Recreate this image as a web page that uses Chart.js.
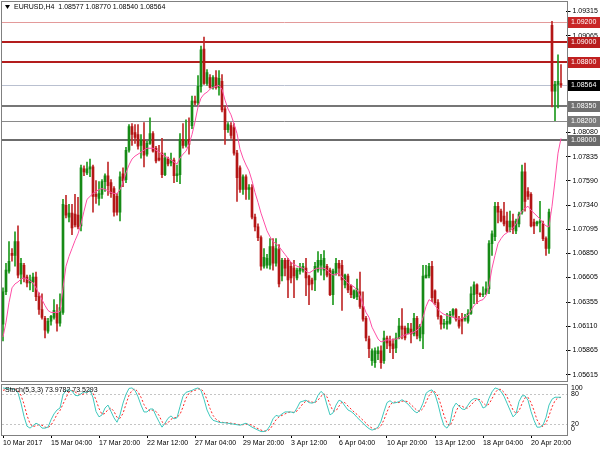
<!DOCTYPE html>
<html>
<head>
<meta charset="utf-8">
<script src="https://cdn.jsdelivr.net/npm/chart.js@4.4.1/dist/chart.umd.min.js"></script>
<style>
  html, body { margin: 0; padding: 0; background: #fff; }
  #wrap { position: relative; width: 600px; height: 450px; overflow: hidden; }
  #priceChart { position: absolute; left: 0; top: 0; }
  #stochChart { position: absolute; left: 0; top: 383px; }
</style>
</head>
<body>
<div id="wrap">
  <canvas id="priceChart" width="600" height="383"></canvas>
  <canvas id="stochChart" width="600" height="67"></canvas>
</div>
<script>
// EURUSD H4 candles
const opens = [
  1.0613,1.0646,1.0667,1.0685,1.0683,1.0697,1.0664,1.0673,1.0661,1.0655,
  1.0656,1.0661,1.0641,1.0628,1.0619,1.0606,1.0616,1.0620,1.0624,1.0614,
  1.0625,1.0734,1.0722,1.0726,1.0725,1.0724,1.0713,1.0771,1.0767,1.0771,
  1.0773,1.0745,1.0741,1.0745,1.0758,1.0764,1.0757,1.0751,1.0743,1.0727,
  1.0766,1.0760,1.0790,1.0814,1.0808,1.0806,1.0795,1.0800,1.0786,1.0797,
  1.0807,1.0792,1.0782,1.0787,1.0765,1.0781,1.0777,1.0780,1.0764,1.0765,
  1.0801,1.0795,1.0801,1.0815,1.0840,1.0838,1.0855,1.0893,1.0858,1.0864,
  1.0854,1.0864,1.0854,1.0860,1.0832,1.0811,1.0815,1.0813,1.0787,1.0772,
  1.0750,1.0763,1.0750,1.0752,1.0722,1.0712,1.0701,1.0672,1.0673,1.0673,
  1.0692,1.0675,1.0689,1.0662,1.0678,1.0678,1.0672,1.0670,1.0660,1.0667,
  1.0668,1.0670,1.0662,1.0658,1.0658,1.0668,1.0673,1.0668,1.0672,1.0668,
  1.0643,1.0665,1.0675,1.0673,1.0653,1.0662,1.0652,1.0640,1.0641,1.0646,
  1.0631,1.0619,1.0598,1.0576,1.0574,1.0583,1.0586,1.0576,1.0599,1.0596,
  1.0593,1.0589,1.0599,1.0611,1.0609,1.0604,1.0608,1.0603,1.0619,1.0599,
  1.0603,1.0660,1.0662,1.0672,1.0647,1.0635,1.0621,1.0613,1.0613,1.0614,
  1.0623,1.0628,1.0618,1.0619,1.0618,1.0616,1.0624,1.0643,1.0653,1.0644,
  1.0643,1.0644,1.0649,1.0695,1.0702,1.0733,1.0728,1.0723,1.0718,1.0712,
  1.0718,1.0708,1.0715,1.0727,1.0768,1.0748,1.0745,1.0717,1.0715,1.0716,
  1.0715,1.0700,1.0690,1.0917,1.0850,1.0857,1.08577
];
const highs = [
  1.0650,1.0675,1.0697,1.0690,1.0707,1.0713,1.0680,1.0675,1.0663,1.0663,
  1.0665,1.0666,1.0645,1.0644,1.0621,1.0619,1.0622,1.0638,1.0633,1.0644,
  1.0740,1.0744,1.0735,1.0735,1.0745,1.0742,1.0775,1.0774,1.0778,1.0781,
  1.0775,1.0759,1.0758,1.0760,1.0766,1.0778,1.0760,1.0753,1.0746,1.0768,
  1.0772,1.0793,1.0816,1.0817,1.0816,1.0816,1.0806,1.0818,1.0799,1.0823,
  1.0809,1.0794,1.0795,1.0802,1.0787,1.0783,1.0787,1.0782,1.0775,1.0807,
  1.0817,1.0821,1.0823,1.0845,1.0845,1.0866,1.0896,1.0905,1.0872,1.0867,
  1.0866,1.0871,1.0871,1.0867,1.0835,1.0818,1.0818,1.0817,1.0790,1.0774,
  1.0765,1.0765,1.0755,1.0755,1.0725,1.0715,1.0703,1.0690,1.0684,1.0700,
  1.0700,1.0700,1.0694,1.0680,1.0680,1.0680,1.0676,1.0678,1.0670,1.0675,
  1.0675,1.0680,1.0663,1.0660,1.0676,1.0687,1.0684,1.0688,1.0674,1.0670,
  1.0669,1.0680,1.0678,1.0678,1.0664,1.0664,1.0653,1.0648,1.0659,1.0666,
  1.0646,1.0621,1.0601,1.0588,1.0589,1.0590,1.0591,1.0606,1.0601,1.0601,
  1.0598,1.0604,1.0619,1.0629,1.0611,1.0614,1.0614,1.0624,1.0621,1.0613,
  1.0673,1.0673,1.0675,1.0677,1.0648,1.0638,1.0622,1.0618,1.0624,1.0626,
  1.0629,1.0629,1.0621,1.0624,1.0623,1.0628,1.0651,1.0656,1.0654,1.0645,
  1.0651,1.0656,1.0698,1.0708,1.0737,1.0737,1.0730,1.0737,1.0727,1.0728,
  1.0725,1.0720,1.0727,1.0775,1.0777,1.0752,1.0747,1.0720,1.0718,1.0738,
  1.0718,1.0702,1.0730,1.0921,1.0860,1.0887,1.08770
];
const lows = [
  1.0596,1.0643,1.0665,1.0677,1.0672,1.0660,1.0654,1.0656,1.0651,1.0648,
  1.0646,1.0637,1.0623,1.0618,1.0599,1.0604,1.0612,1.0618,1.0606,1.0611,
  1.0623,1.0721,1.0717,1.0704,1.0712,1.0710,1.0708,1.0764,1.0765,1.0763,
  1.0727,1.0736,1.0734,1.0741,1.0748,1.0744,1.0742,1.0723,1.0724,1.0718,
  1.0753,1.0757,1.0788,1.0795,1.0797,1.0791,1.0782,1.0773,1.0784,1.0796,
  1.0788,1.0777,1.0779,1.0762,1.0764,1.0774,1.0774,1.0757,1.0758,1.0756,
  1.0792,1.0793,1.0786,1.0812,1.0836,1.0836,1.0849,1.0857,1.0856,1.0853,
  1.0852,1.0852,1.0846,1.0829,1.0796,1.0808,1.0802,1.0785,1.0738,1.0747,
  1.0745,1.0740,1.0740,1.0720,1.0708,1.0698,1.0668,1.0670,1.0670,1.0669,
  1.0668,1.0672,1.0651,1.0657,1.0662,1.0640,1.0655,1.0640,1.0658,1.0664,
  1.0666,1.0642,1.0633,1.0648,1.0647,1.0666,1.0663,1.0658,1.0661,1.0642,
  1.0633,1.0663,1.0662,1.0627,1.0650,1.0645,1.0640,1.0639,1.0638,1.0629,
  1.0616,1.0596,1.0579,1.0571,1.0569,1.0577,1.0568,1.0573,1.0588,1.0584,
  1.0578,1.0584,1.0598,1.0598,1.0597,1.0603,1.0594,1.0601,1.0598,1.0596,
  1.0588,1.0660,1.0660,1.0636,1.0633,1.0618,1.0608,1.0609,1.0608,1.0613,
  1.0621,1.0616,1.0609,1.0603,1.0616,1.0614,1.0623,1.0634,1.0634,1.0641,
  1.0641,1.0643,1.0644,1.0683,1.0698,1.0716,1.0717,1.0713,1.0707,1.0707,
  1.0705,1.0705,1.0712,1.0725,1.0728,1.0740,1.0712,1.0705,1.0713,1.0707,
  1.0698,1.0683,1.0685,1.0834,1.0820,1.0833,1.08540
];
const closes = [
  1.0646,1.0668,1.0677,1.0683,1.0697,1.0663,1.0675,1.0660,1.0655,1.0658,
  1.0661,1.0641,1.0628,1.0620,1.0607,1.0616,1.0621,1.0627,1.0614,1.0630,
  1.0735,1.0724,1.0726,1.0711,1.0714,1.0712,1.0772,1.0768,1.0771,1.0773,
  1.0743,1.0743,1.0746,1.0758,1.0764,1.0754,1.0746,1.0727,1.0727,1.0763,
  1.0759,1.0790,1.0814,1.0806,1.0803,1.0794,1.0800,1.0785,1.0797,1.0807,
  1.0789,1.0779,1.0780,1.0765,1.0782,1.0776,1.0780,1.0764,1.0766,1.0801,
  1.0795,1.0800,1.0796,1.0840,1.0838,1.0855,1.0892,1.0858,1.0869,1.0854,
  1.0864,1.0854,1.0863,1.0831,1.0811,1.0816,1.0805,1.0787,1.0762,1.0750,
  1.0763,1.0750,1.0752,1.0722,1.0712,1.0701,1.0672,1.0681,1.0680,1.0692,
  1.0675,1.0690,1.0654,1.0678,1.0670,1.0658,1.0660,1.0662,1.0668,1.0670,
  1.0672,1.0660,1.0653,1.0654,1.0672,1.0678,1.0678,1.0680,1.0663,1.0643,
  1.0667,1.0675,1.0670,1.0658,1.0663,1.0648,1.0643,1.0647,1.0649,1.0631,
  1.0618,1.0599,1.0588,1.0586,1.0586,1.0586,1.0574,1.0599,1.0594,1.0591,
  1.0588,1.0599,1.0611,1.0608,1.0599,1.0609,1.0603,1.0619,1.0601,1.0611,
  1.0662,1.0663,1.0672,1.0640,1.0635,1.0621,1.0613,1.0614,1.0616,1.0623,
  1.0628,1.0618,1.0611,1.0616,1.0619,1.0624,1.0644,1.0653,1.0644,1.0643,
  1.0644,1.0649,1.0695,1.0705,1.0733,1.0727,1.0718,1.0715,1.0708,1.0718,
  1.0710,1.0718,1.0725,1.0768,1.0738,1.0743,1.0713,1.0713,1.0717,1.0718,
  1.0700,1.0690,1.0727,1.0850,1.0857,1.0860,1.08564
];
// pink moving average
const maValues = [
  1.0600,1.0615,1.0635,1.0650,1.0654,1.0656,1.0659,1.0660,1.0659,1.0657,
  1.0655,1.0650,1.0644,1.0638,1.0632,1.0627,1.0625,1.0625,1.0625,1.0626,
  1.0650,1.0672,1.0682,1.0690,1.0698,1.0705,1.0715,1.0728,1.0740,1.0743,
  1.0746,1.0748,1.0750,1.0751,1.0750,1.0749,1.0747,1.0746,1.0746,1.0750,
  1.0757,1.0767,1.0775,1.0781,1.0784,1.0786,1.0788,1.0790,1.0792,1.0792,
  1.0792,1.0790,1.0788,1.0786,1.0784,1.0782,1.0780,1.0778,1.0776,1.0782,
  1.0786,1.0789,1.0796,1.0806,1.0819,1.0834,1.0843,1.0847,1.0849,1.0852,
  1.0854,1.0855,1.0856,1.0852,1.0841,1.0832,1.0826,1.0817,1.0807,1.0791,
  1.0782,1.0775,1.0769,1.0759,1.0747,1.0737,1.0726,1.0717,1.0708,1.0702,
  1.0697,1.0695,1.0692,1.0688,1.0684,1.0680,1.0676,1.0674,1.0672,1.0671,
  1.0670,1.0667,1.0665,1.0667,1.0669,1.0670,1.0670,1.0670,1.0668,1.0665,
  1.0663,1.0664,1.0665,1.0661,1.0658,1.0655,1.0653,1.0651,1.0648,1.0642,
  1.0633,1.0625,1.0620,1.0610,1.0604,1.0598,1.0595,1.0596,1.0597,1.0597,
  1.0597,1.0598,1.0599,1.0601,1.0602,1.0603,1.0604,1.0605,1.0607,1.0610,
  1.0620,1.0631,1.0638,1.0636,1.0632,1.0628,1.0625,1.0623,1.0622,1.0621,
  1.0620,1.0619,1.0618,1.0619,1.0620,1.0622,1.0627,1.0632,1.0635,1.0637,
  1.0638,1.0642,1.0652,1.0670,1.0683,1.0695,1.0700,1.0704,1.0706,1.0708,
  1.0711,1.0715,1.0723,1.0728,1.0731,1.0733,1.0729,1.0726,1.0723,1.0720,
  1.0716,1.0713,1.0712,1.0733,1.0759,1.0787,1.0802
];
// Stochastic(5,3,3)
const stochMain = [
  93,92,91,91,90,83,62,35,15,11,
  16,21,18,11,11,13,28,40,48,52,
  79,88,89,87,78,77,81,85,83,89,
  73,45,34,38,52,58,45,32,23,38,
  62,80,92,93,88,75,58,44,44,50,
  50,36,24,13,21,31,36,30,32,55,
  76,84,86,88,91,93,88,70,48,35,
  27,25,23,22,22,21,20,19,18,17,
  19,21,17,13,10,7,4,4,7,16,
  30,37,35,40,44,44,44,42,52,64,
  66,68,63,62,64,78,86,80,58,38,
  42,58,68,65,56,48,45,40,33,27,
  21,15,10,7,9,13,25,45,63,67,
  62,63,65,69,65,60,53,46,42,48,
  62,82,87,89,80,60,35,16,11,21,
  52,62,56,50,49,58,67,71,71,65,
  52,55,72,85,93,91,86,76,62,48,
  34,40,65,77,77,68,45,27,13,13,
  17,33,58,70,74,74,73.9782
];
const stochSignal = [
  88,90,92,91,91,88,78,60,37,20,
  14,16,18,17,13,12,17,27,39,47,
  60,73,85,88,85,81,79,81,83,86,
  82,69,51,39,41,49,52,45,33,31,
  41,60,78,88,91,85,74,59,49,46,
  48,45,37,24,19,22,29,32,33,39,
  54,72,82,86,88,91,91,84,69,51,
  37,29,25,23,22,22,21,20,19,18,
  18,19,19,17,13,10,7,5,5,9,
  18,28,34,37,40,43,44,43,46,53,
  61,66,66,64,63,68,76,81,75,59,
  46,46,56,64,63,56,50,44,39,33,
  27,21,15,11,9,10,16,28,44,58,
  64,64,63,66,66,65,59,53,47,45,
  51,64,77,86,85,76,58,37,21,16,
  28,45,57,56,52,52,58,65,70,69,
  63,57,60,71,83,90,90,84,75,62,
  48,41,46,61,73,74,63,47,28,18,
  14,21,36,54,67,73,73.5293
];

const dateLabels = ['10 Mar 2017', '15 Mar 04:00', '17 Mar 20:00', '22 Mar 12:00', '27 Mar 04:00', '29 Mar 20:00',
  '3 Apr 12:00', '6 Apr 04:00', '10 Apr 20:00', '13 Apr 12:00', '18 Apr 04:00', '20 Apr 20:00'];
const priceTicks = [1.09315, 1.09065, 1.08080, 1.07835, 1.07590, 1.07340, 1.07095,
  1.06850, 1.06605, 1.06355, 1.06110, 1.05865, 1.05615];
const levelPrices = [1.0920, 1.0900, 1.0880, 1.0835, 1.0820, 1.0800];
const stochLevels = [80, 20];
const stochAxisLabels = [100, 80, 20, 0];

// styles
const FONT = '7px "Liberation Sans", Arial, sans-serif';
const levelColors = ['#e39a9a', '#b31d1d', '#b31d1d', '#767676', '#8a8a8a', '#6c6c6c'];
const levelWidths = [1, 2, 2, 2, 1, 2];
const levelBoxColors = ['#c92626', '#b81c1c', '#c02020', '#707070', '#7a7a7a', '#6a6a6a'];

const last = closes.length - 1;
const bid = closes[last];
const barsPerLabel = 16;
const slots = Array.from({ length: 188 }, (_, i) => i); // bars plus MT4 right shift
const isUp = closes.map((c, i) => c >= opens[i]);

Chart.defaults.font.family = '"Liberation Sans", Arial, sans-serif';
Chart.defaults.font.size = 7;
Chart.defaults.color = '#000';

const priceDecor = {
  id: 'priceDecor',
  beforeDatasetsDraw(chart) {
    const { ctx, scales: { y } } = chart;
    ctx.save();
    levelPrices.forEach((p, i) => {
      const w = levelWidths[i];
      const py = Math.round(y.getPixelForValue(p)) + (w % 2 ? 0.5 : 0);
      ctx.strokeStyle = levelColors[i];
      ctx.lineWidth = w;
      ctx.beginPath(); ctx.moveTo(2, py); ctx.lineTo(567, py); ctx.stroke();
    });
    const by = Math.round(y.getPixelForValue(bid)) + 0.5;
    ctx.strokeStyle = '#b9c0d0'; ctx.lineWidth = 1;
    ctx.beginPath(); ctx.moveTo(2, by); ctx.lineTo(567, by); ctx.stroke();
    ctx.restore();
  },
  afterDraw(chart) {
    const { ctx, scales: { y } } = chart;
    ctx.save();
    ctx.strokeStyle = '#808080'; ctx.lineWidth = 1;
    ctx.strokeRect(1.5, 1.5, 566, 380);

    // header
    ctx.fillStyle = '#000';
    ctx.beginPath(); ctx.moveTo(5, 5); ctx.lineTo(10, 5); ctx.lineTo(7.5, 9); ctx.closePath(); ctx.fill();
    ctx.font = FONT; ctx.textBaseline = 'middle'; ctx.textAlign = 'left';
    ctx.fillText('EURUSD,H4  ' + [opens[last], highs[last], lows[last], closes[last]].map(v => v.toFixed(5)).join(' '), 14, 7.5);

    // price boxes on the axis
    const box = (p, bg) => {
      const py = Math.round(y.getPixelForValue(p));
      ctx.fillStyle = bg; ctx.fillRect(568, py - 5, 32, 11);
      ctx.fillStyle = '#fff'; ctx.fillText(p.toFixed(5), 571, py + 0.5);
    };
    levelPrices.forEach((p, i) => box(p, levelBoxColors[i]));
    box(bid, '#000');
    ctx.restore();
  }
};

new Chart(document.getElementById('priceChart'), {
  type: 'bar',
  data: {
    labels: slots,
    datasets: [
      { type: 'line', data: maValues, borderColor: '#ff4fa6', borderWidth: 1, pointRadius: 0, tension: 0, order: 0 },
      { data: opens.map((o, i) => [o, closes[i]]), backgroundColor: isUp.map(u => u ? '#168a16' : '#b41616'),
        barThickness: 2, minBarLength: 1, grouped: false, borderWidth: 0, order: 1 },
      { data: lows.map((l, i) => [l, highs[i]]), backgroundColor: isUp.map(u => u ? '#1f9a1f' : '#c02a2a'),
        barThickness: 1, grouped: false, borderWidth: 0, order: 2 }
    ]
  },
  options: {
    responsive: false, animation: false, devicePixelRatio: 1,
    layout: { padding: { left: 1.5, top: 2, right: 0, bottom: 2 } },
    plugins: { legend: { display: false }, tooltip: { enabled: false } },
    scales: {
      x: { display: false, offset: true },
      y: {
        position: 'right', min: 1.05595, max: 1.09365,
        afterFit: s => { s.width = 34.5; },
        afterBuildTicks: s => { s.ticks = priceTicks.map(v => ({ value: v })); },
        ticks: { padding: 2, color: '#000', autoSkip: false, callback: v => Number(v).toFixed(5) },
        grid: { drawOnChartArea: false, tickLength: 5, color: '#000' },
        border: { display: false }
      }
    }
  },
  plugins: [priceDecor]
});

const stochDecor = {
  id: 'stochDecor',
  beforeDatasetsDraw(chart) {
    const { ctx, scales: { y } } = chart;
    ctx.save();
    ctx.strokeStyle = '#c4c4c4'; ctx.lineWidth = 1; ctx.setLineDash([2, 2]);
    stochLevels.forEach(v => {
      const py = Math.round(y.getPixelForValue(v)) + 0.5;
      ctx.beginPath(); ctx.moveTo(2, py); ctx.lineTo(567, py); ctx.stroke();
    });
    ctx.restore();
  },
  afterDraw(chart) {
    const { ctx, scales: { y }, chartArea: a } = chart;
    ctx.save();
    ctx.strokeStyle = '#808080'; ctx.lineWidth = 1;
    ctx.strokeRect(1.5, 1.5, 566, 51);
    ctx.fillStyle = '#000'; ctx.font = FONT; ctx.textBaseline = 'middle'; ctx.textAlign = 'left';
    stochAxisLabels.forEach(v => {
      const py = Math.min(Math.max(y.getPixelForValue(v), a.top + 4), a.bottom - 6);
      ctx.fillText(String(v), 571, py);
    });
    ctx.fillText('Stoch(5,3,3) ' + stochMain[last].toFixed(4) + ' ' + stochSignal[last].toFixed(4), 5, 7.5);
    ctx.restore();
  }
};

new Chart(document.getElementById('stochChart'), {
  type: 'line',
  data: {
    labels: slots,
    datasets: [
      { data: stochMain, borderColor: '#3fc8bd', borderWidth: 1, pointRadius: 0, tension: 0 },
      { data: stochSignal, borderColor: '#ff2626', borderWidth: 1, borderDash: [2, 2], pointRadius: 0, tension: 0 }
    ]
  },
  options: {
    responsive: false, animation: false, devicePixelRatio: 1,
    layout: { padding: { left: 1.5, top: 1, right: 0, bottom: 0 } },
    plugins: { legend: { display: false }, tooltip: { enabled: false } },
    scales: {
      x: {
        offset: true,
        afterFit: s => { s.height = 15; },
        grid: {
          offset: false, drawOnChartArea: false, tickLength: 3,
          color: c => (c.index % barsPerLabel === 0 ? '#000' : 'rgba(0,0,0,0)'),
          tickColor: c => (c.index % barsPerLabel === 0 ? '#000' : 'rgba(0,0,0,0)')
        },
        border: { display: false },
        ticks: {
          autoSkip: false, maxRotation: 0, minRotation: 0, align: 'start', padding: 1, color: '#000',
          callback: (v, i) => (i % barsPerLabel === 0 && dateLabels[i / barsPerLabel]) ? dateLabels[i / barsPerLabel] : ''
        }
      },
      y: {
        position: 'right', min: -3, max: 101,
        afterFit: s => { s.width = 34.5; },
        ticks: { display: false },
        grid: { display: false },
        border: { display: false }
      }
    }
  },
  plugins: [stochDecor]
});
</script>
</body>
</html>
